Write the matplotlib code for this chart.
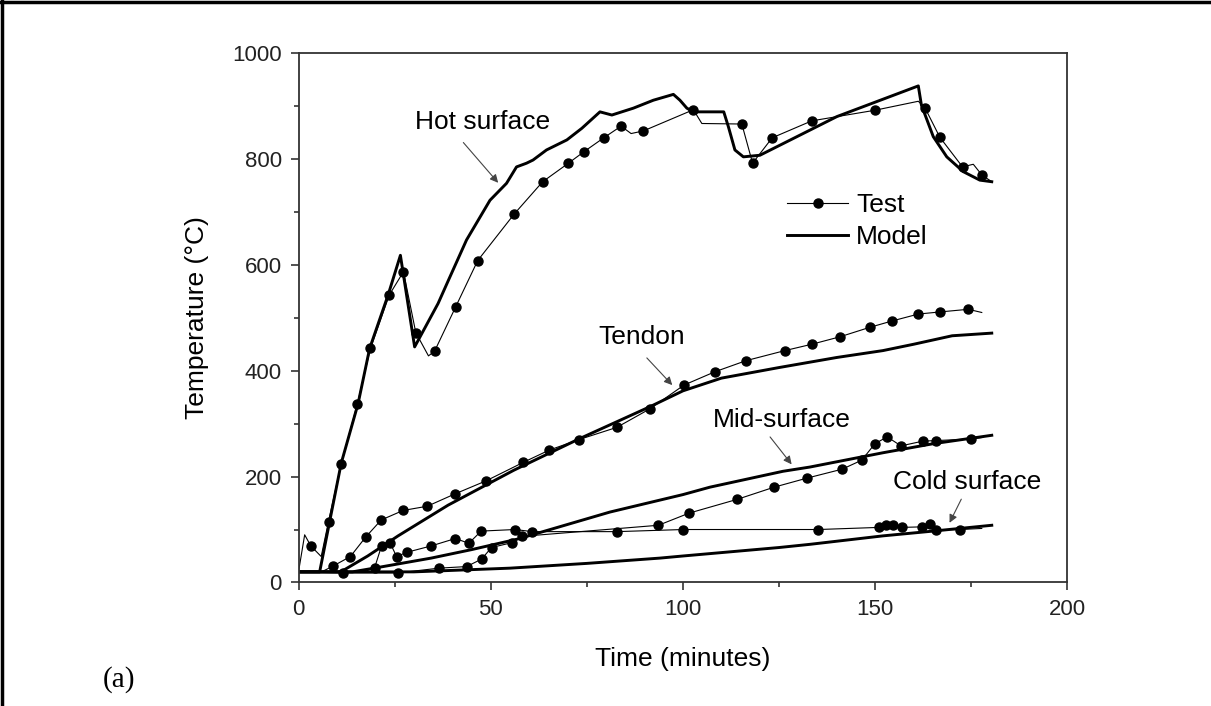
import numpy as np
import matplotlib.pyplot as plt
from matplotlib.lines import Line2D

plt.rcParams['font.family'] = ['Liberation Sans', 'DejaVu Sans']

## Mesures (Test) : temps en minutes, température en °C
# les indices *_dots donnent les points marqués d'un rond

hot_test_t = [0, 1.6, 3.2, 5.9, 7.8, 11.1, 15.3, 18.7, 23.6, 27.3, 30.5, 33.8, 35.4, 40.9,
              46.6, 56.1, 63.5, 70.2, 74.3, 79.4, 83.9, 86.5, 89.7, 102.7, 104.9, 115.3,
              118.1, 123.2, 133.5, 149.9, 161.2, 162.9, 166.8, 172.7, 175.5, 177.7, 180.3]
hot_test_T = [20, 90, 69, 49, 115, 224, 337, 442, 543, 587, 472, 428, 437, 521,
              608, 696, 757, 792, 814, 840, 862, 848, 853, 893, 867, 866,
              792, 840, 872, 892, 909, 897, 841, 785, 790, 770, 757]
hot_dots = [2, 4, 5, 6, 7, 8, 9, 10, 12, 13, 14, 15, 16, 17, 18, 19, 20, 22, 23, 25,
            26, 27, 28, 29, 31, 32, 33, 35]

tendon_test_t = [0, 6, 9.0, 13.5, 17.5, 21.5, 27.2, 33.5, 40.6, 48.8, 58.5, 65.2, 73.0,
                 82.8, 91.4, 100.3, 108.3, 116.4, 126.5, 133.5, 140.8, 148.6, 154.4,
                 161.2, 166.8, 174.2, 177.7]
tendon_test_T = [20, 20, 31, 49, 86, 118, 136, 144, 167, 192, 227, 250, 270,
                 293, 328, 373, 398, 419, 438, 450, 464, 482, 494,
                 507, 511, 516, 510]
tendon_dots = list(range(2, 26))

mid_test_t = [0, 11.7, 25.9, 36.5, 43.7, 47.6, 50.2, 55.4, 58.0, 93.6, 101.6, 114.1,
              123.7, 132.2, 141.4, 146.5, 149.9, 153.1, 156.7, 162.4, 165.8, 174.8, 178.0]
mid_test_T = [20, 18, 18, 27, 30, 44, 66, 75, 87, 108, 131, 157,
              180, 197, 214, 231, 262, 275, 258, 267, 268, 271, 274]
mid_dots = list(range(1, 22))

cold_test_t = [0, 17, 19.8, 21.6, 23.8, 25.5, 28.2, 34.5, 40.8, 44.3, 47.5, 56.3, 60.8,
               82.8, 100.1, 135.2, 151.0, 152.8, 154.5, 156.9, 162.1, 164.2, 165.8,
               172.0, 177.7]
cold_test_T = [20, 20, 28, 69, 75, 49, 57, 69, 83, 74, 97, 100, 96,
               96, 100, 100, 104, 108, 108, 104, 105, 110, 99,
               100, 102]
cold_dots = list(range(2, 24))

## Modèle

hot_model_t = [0, 5.5, 11.1, 15.5, 18.5, 23.3, 26.5, 30.2, 36.3, 39.0, 43.7, 49.8, 54.1,
               56.7, 59.3, 61.0, 64.5, 69.8, 73.7, 78.4, 81.5, 87.1, 92.3, 97.5, 99.2,
               101.0, 102.7, 110.6, 111.8, 113.5, 115.7, 120.0, 140.0, 161.2, 162.0,
               165.1, 168.6, 172.9, 177.2, 180.3]
hot_model_T = [20, 20, 225, 338, 442, 543, 618, 445, 527, 571, 647, 722, 754,
               785, 792, 798, 817, 836, 858, 889, 883, 896, 911, 922, 911,
               896, 889, 889, 861, 817, 804, 807, 880, 938, 902,
               842, 804, 776, 760, 757]

tendon_model_t = [0, 11, 18, 25.9, 38.9, 56, 73.2, 91.4, 100, 110, 125, 140, 152, 160,
                  170, 180.3]
tendon_model_T = [20, 20, 50, 88, 146, 212, 272, 332, 362, 386, 406, 425, 438, 450,
                  466, 471]

mid_model_t = [0, 14, 22, 34.5, 45, 57, 81, 100, 107, 126, 133, 152, 165, 180.3]
mid_model_T = [20, 20, 30, 46, 62, 82, 133, 166, 180, 210, 218, 245, 262, 278]

cold_model_t = [0, 30, 55, 75, 94, 100, 125, 133, 152, 165, 180.3]
cold_model_T = [20, 20, 27, 36, 46, 50, 66, 72, 88, 97, 108]

## Tracé

fig = plt.figure(figsize=(12.11, 7.06), dpi=100)
ax = fig.add_axes([0.2465, 0.175, 0.635, 0.7498])

test_style = dict(color='black', lw=0.8, marker='o', ms=6.5)
for t, T, idx in [(hot_test_t, hot_test_T, hot_dots),
                  (tendon_test_t, tendon_test_T, tendon_dots),
                  (mid_test_t, mid_test_T, mid_dots),
                  (cold_test_t, cold_test_T, cold_dots)]:
    ax.plot(t, T, markevery=idx, **test_style)

for t, T in [(hot_model_t, hot_model_T), (tendon_model_t, tendon_model_T),
             (mid_model_t, mid_model_T), (cold_model_t, cold_model_T)]:
    ax.plot(t, T, color='black', lw=2.1, solid_joinstyle='round')

ax.set_xlim(0, 200)
ax.set_ylim(0, 1000)
ax.set_xticks(np.arange(0, 201, 50))
ax.set_xticks(np.arange(0, 201, 25), minor=True)
ax.set_yticks(np.arange(0, 1001, 200))
ax.set_yticks(np.arange(0, 1001, 100), minor=True)
ax.tick_params(which='major', length=6, width=1.1, labelsize=16, colors='#222222', pad=6)
ax.tick_params(which='minor', length=3.5, width=1.1, colors='#222222')
for s in ax.spines.values():
    s.set_linewidth(1.3)
    s.set_color('#333333')

ax.set_xlabel('Time (minutes)', fontsize=19, labelpad=19)
ax.set_ylabel('Temperature (°C)', fontsize=19, labelpad=17)

# étiquettes des courbes avec flèches
arr = dict(arrowstyle='-|>', color='#444444', lw=0.8, mutation_scale=12)
labels = [('Hot surface', (42.4, 835), (52.4, 751), (47.8, 870)),
          ('Tendon', (90.1, 428), (97.7, 369), (89.3, 463)),
          ('Mid-surface', (122.2, 279), (128.7, 219), (125.7, 307)),
          ('Cold surface', (172.7, 162), (169.0, 108), (173.8, 190))]
for txt, start, tip, pos in labels:
    ax.annotate('', xy=tip, xytext=start, arrowprops=arr)
    ax.text(pos[0], pos[1], txt, fontsize=19, ha='center', va='center')

handles = [Line2D([0, 1, 2], [0, 0, 0], color='black', lw=0.8, marker='o', ms=6.5,
                  markevery=[1]),
           Line2D([], [], color='black', lw=2.1)]
ax.legend(handles, ['Test', 'Model'], loc='upper left', bbox_to_anchor=(0.605, 0.78),
          frameon=False, fontsize=19, handlelength=2.3, handletextpad=0.3,
          labelspacing=0.3)

fig.text(0.085, 0.028, '(a)', fontsize=21, family='Liberation Serif')

# cadre noir autour de la figure (gauche et haut)
fig.add_artist(Line2D([0.002, 0.002], [0, 1], color='black', lw=2.5))
fig.add_artist(Line2D([0, 1], [0.997, 0.997], color='black', lw=2.5))

plt.savefig('out.png', dpi=100)
